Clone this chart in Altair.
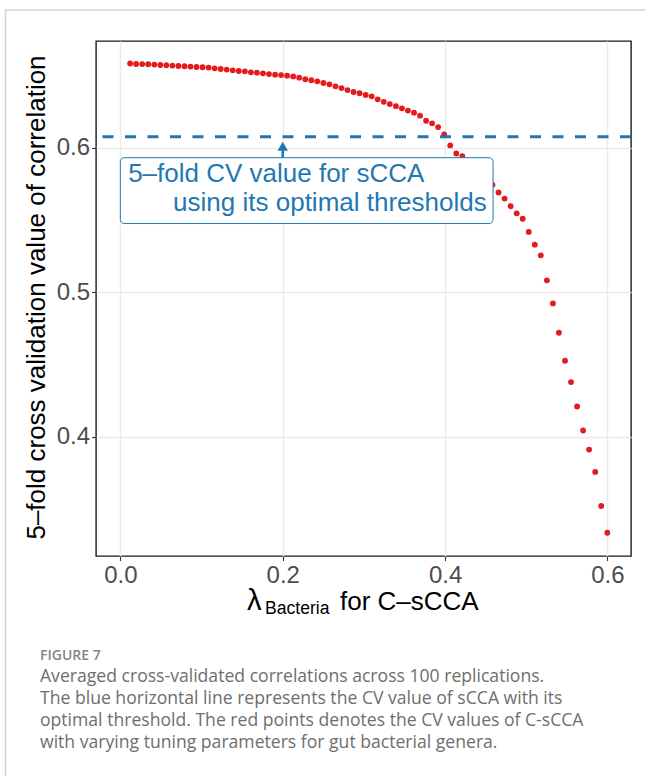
import altair as alt
import pandas as pd

# ---------------- data ----------------
lambda_vals = [
    0.0120, 0.0194, 0.0269, 0.0343, 0.0418, 0.0492, 0.0566, 0.0641, 0.0715, 0.0790,
    0.0864, 0.0938, 0.1013, 0.1087, 0.1162, 0.1236, 0.1310, 0.1385, 0.1459, 0.1534,
    0.1608, 0.1682, 0.1757, 0.1831, 0.1906, 0.1980, 0.2054, 0.2129, 0.2203, 0.2278,
    0.2352, 0.2426, 0.2501, 0.2575, 0.2650, 0.2724, 0.2798, 0.2873, 0.2947, 0.3022,
    0.3096, 0.3170, 0.3245, 0.3319, 0.3394, 0.3468, 0.3542, 0.3617, 0.3691, 0.3766,
    0.3840, 0.3914, 0.3989, 0.4063, 0.4138, 0.4212, 0.4286, 0.4361, 0.4435, 0.4510,
    0.4584, 0.4658, 0.4733, 0.4807, 0.4882, 0.4956, 0.5030, 0.5105, 0.5179, 0.5254,
    0.5328, 0.5402, 0.5477, 0.5551, 0.5626, 0.5700, 0.5774, 0.5849, 0.5923, 0.5998,
]
cv_vals = [
    0.6583, 0.6580, 0.6579, 0.6578, 0.6576, 0.6573, 0.6571, 0.6569, 0.6566, 0.6564,
    0.6562, 0.6559, 0.6557, 0.6555, 0.6550, 0.6545, 0.6541, 0.6536, 0.6531, 0.6529,
    0.6522, 0.6520, 0.6515, 0.6510, 0.6506, 0.6503, 0.6499, 0.6494, 0.6485, 0.6474,
    0.6467, 0.6460, 0.6448, 0.6439, 0.6425, 0.6413, 0.6399, 0.6386, 0.6377, 0.6365,
    0.6356, 0.6335, 0.6318, 0.6302, 0.6288, 0.6273, 0.6257, 0.6243, 0.6222, 0.6187,
    0.6169, 0.6143, 0.6092, 0.6016, 0.5960, 0.5942, 0.5905, 0.5870, 0.5829, 0.5787,
    0.5743, 0.5690, 0.5648, 0.5595, 0.5546, 0.5508, 0.5417, 0.5329, 0.5255, 0.5082,
    0.4922, 0.4719, 0.4525, 0.4377, 0.4208, 0.4042, 0.3910, 0.3755, 0.3519, 0.3334,
]
scca_cv = [0.6076]
x_ticks = [0.0, 0.2, 0.4, 0.6]
y_ticks = [0.4, 0.5, 0.6]

y_title = "5–fold cross validation value of correlation"
x_title_parts = ["λ", "Bacteria", "for C–sCCA"]
label_lines = ["5–fold CV value for sCCA", "using its optimal thresholds"]
caption_head = ["FIGURE 7"]
caption_lines = [
    "Averaged cross-validated correlations across 100 replications.",
    "The blue horizontal line represents the CV value of sCCA with its",
    "optimal threshold. The red points denotes the CV values of C-sCCA",
    "with varying tuning parameters for gut bacterial genera.",
]

# ---------------- styling / layout ----------------
W, H = 535, 515
PAD = {"left": 96, "top": 41, "right": 14, "bottom": 220}
FONT = "Liberation Sans"
CAP_FONT = "Open Sans"
BLUE = "#1F78B4"
RED = "#E41A1C"
X_DOMAIN = [-0.030, 0.629]
Y_DOMAIN = [0.3173, 0.6739]

xs = alt.Scale(domain=X_DOMAIN, nice=False, zero=False)
ys = alt.Scale(domain=Y_DOMAIN, nice=False, zero=False)

x_axis = alt.Axis(values=x_ticks, format=".1f", title=None, grid=True,
                  labelPadding=3, tickSize=4.5)
y_axis = alt.Axis(values=y_ticks, format=".1f", title=y_title, grid=True,
                  labelPadding=2, tickSize=4.5,
                  titleAngle=270, titleX=-60, titleY=256,
                  titleAlign="center", titleBaseline="middle",
                  titleFontSize=26, titleFontWeight="normal",
                  titleColor="black", titleFont=FONT)


def X(field="lam"):
    return alt.X(f"{field}:Q", scale=xs, axis=x_axis)


def Y(field="cv"):
    return alt.Y(f"{field}:Q", scale=ys, axis=y_axis)


df = pd.DataFrame({"lam": lambda_vals, "cv": cv_vals})

points = alt.Chart(df).mark_circle(size=34, color=RED, opacity=1).encode(
    x=X(), y=Y()
)

hline = alt.Chart(pd.DataFrame({"cv": scca_cv})).mark_rule(
    color=BLUE, strokeWidth=3, strokeDash=[11, 11.5]
).encode(y=Y())

# annotation (label box + arrow), positioned in data units like the original annotate()
box_df = pd.DataFrame({"lam": [0.0], "lam2": [0.4591], "cv": [0.5931], "cv2": [0.5475]})
box = alt.Chart(box_df).mark_rect(
    fill="white", stroke=BLUE, strokeWidth=1, cornerRadius=4
).encode(x=X(), x2="lam2:Q", y=Y(), y2="cv2:Q")

lab_df = pd.DataFrame({"lam": [0.0096, 0.0650], "cv": [0.5761, 0.5560], "t": label_lines})
labels = alt.Chart(lab_df).mark_text(
    align="left", baseline="alphabetic", fontSize=26, font=FONT, color=BLUE
).encode(x=X(), y=Y(), text="t:N")

arrow_df = pd.DataFrame({"lam": [0.2], "cv": [0.5931], "cv2": [0.6005]})
arrow_shaft = alt.Chart(arrow_df).mark_rule(color=BLUE, strokeWidth=2.5).encode(
    x=X(), y=Y(), y2="cv2:Q"
)
head_df = pd.DataFrame({"lam": [0.2], "cv": [0.6010]})
arrow_head = alt.Chart(head_df).mark_point(
    shape="triangle-up", size=110, filled=True, color=BLUE, opacity=1
).encode(x=X(), y=Y())

# x-axis title with subscript, built from three text pieces
one = pd.DataFrame({"k": [0]})
xt1 = alt.Chart(one).mark_text(align="left", baseline="alphabetic", fontSize=29,
                               font=FONT, color="black").encode(
    x=alt.value(151), y=alt.value(569), text=alt.value(x_title_parts[0]))
xt2 = alt.Chart(one).mark_text(align="left", baseline="alphabetic", fontSize=17.6,
                               font=FONT, color="black").encode(
    x=alt.value(169), y=alt.value(573.3), text=alt.value(x_title_parts[1]))
xt3 = alt.Chart(one).mark_text(align="left", baseline="alphabetic", fontSize=26,
                               font=FONT, color="black").encode(
    x=alt.value(244), y=alt.value(569), text=alt.value(x_title_parts[2]))

# page frame lines
frame_top = alt.Chart(one).mark_rule(color="#D3D3D3", strokeWidth=1.5).encode(
    x=alt.value(-91), x2=alt.value(549), y=alt.value(-31))
frame_left = alt.Chart(one).mark_rule(color="#D3D3D3", strokeWidth=1.5).encode(
    x=alt.value(-90.5), y=alt.value(-31), y2=alt.value(735))

# caption
cap_head = alt.Chart(one).mark_text(align="left", baseline="alphabetic", fontSize=14,
                                    font=CAP_FONT, fontWeight=600, color="#858585").encode(
    x=alt.value(-56), y=alt.value(619), text=alt.value(caption_head[0]))
cap_body = alt.Chart(one).mark_text(align="left", baseline="alphabetic", fontSize=17.6,
                                    font=CAP_FONT, color="#6E6E6E",
                                    lineBreak="\n", lineHeight=22).encode(
    x=alt.value(-56), y=alt.value(640.5), text=alt.value("\n".join(caption_lines)))

chart = alt.layer(
    points, hline, box, labels, arrow_shaft, arrow_head,
    xt1, xt2, xt3, frame_top, frame_left, cap_head, cap_body
).properties(
    width=W, height=H,
    autosize=alt.AutoSizeParams(type="none"),
    padding=PAD,
    background="white",
).configure_view(
    stroke="#1A1A1A", strokeWidth=1.4
).configure_axis(
    gridColor="#EBEBEB", gridWidth=1.5, domain=False,
    tickColor="#333333", tickWidth=1.1,
    labelFont=FONT, labelFontSize=24, labelColor="#4D4D4D",
)

chart.save("out.html", embed_options={"renderer": "svg", "actions": False})
